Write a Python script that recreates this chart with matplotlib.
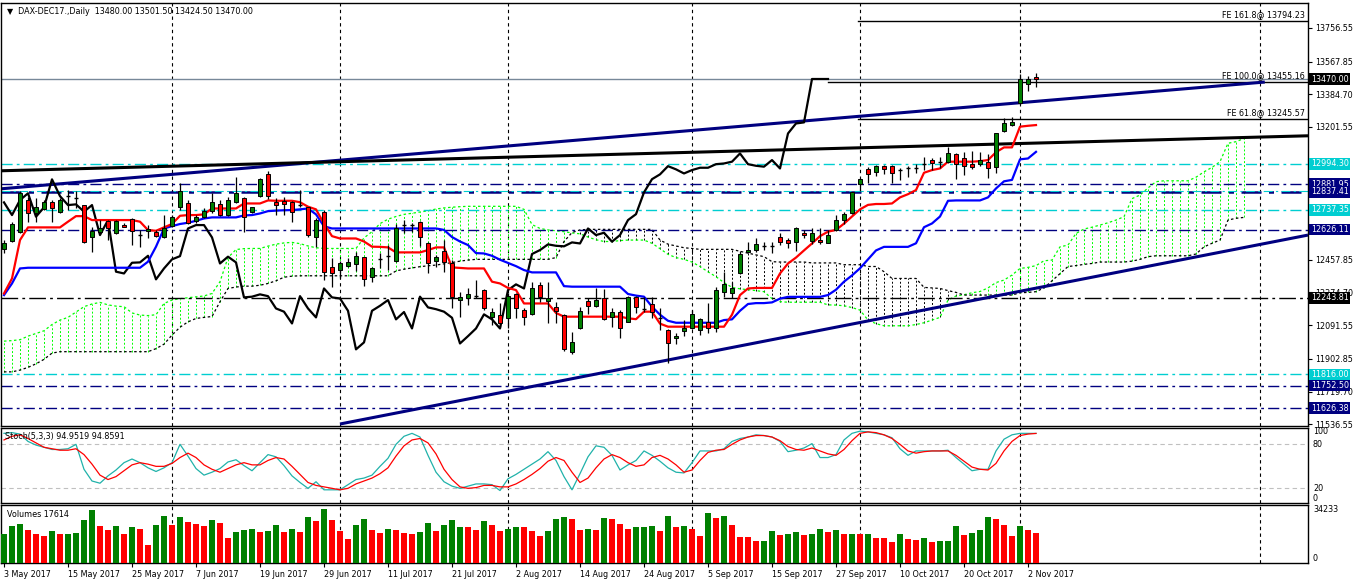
import numpy as np
import matplotlib.pyplot as plt
from matplotlib.patches import Rectangle

plt.rcParams['font.family'] = ['DejaVu Sans']
FS = 5.8

# ---- data (bar index 0 = 3 May 2017) ----
opens = [12518, 12564, 12615, 12792, 12717, 12740, 12779, 12723, 12817, 12802,
         12764, 12587, 12615, 12676, 12606, 12654, 12684, 12596, 12617, 12615,
         12583, 12647, 12751, 12777, 12676, 12699, 12730, 12768, 12708, 12779,
         12805, 12723, 12814, 12938, 12783, 12786, 12783, 12764, 12751, 12587,
         12727, 12415, 12400, 12422, 12434, 12471, 12359, 12460, 12478, 12452,
         12652, 12652, 12667, 12549, 12452, 12506, 12441, 12232, 12245, 12254,
         12288, 12139, 12148, 12129, 12265, 12176, 12152, 12314, 12228, 12191,
         12148, 11943, 12073, 12226, 12200, 12241, 12139, 12163, 12111, 12247,
         12181, 12208, 12133, 12064, 12017, 12060, 12073, 12064, 12111, 12073,
         12275, 12269, 12381, 12499, 12512, 12536, 12533, 12583, 12568, 12558,
         12609, 12564, 12568, 12553, 12624, 12680, 12717, 12881, 12966, 12947,
         12982, 12982, 12960, 12973, 12973, 12993, 13016, 13007, 13007, 13048,
         13025, 12992, 12992, 13003, 12975, 13178, 13210, 13333, 13440, 13480]
highs = [12568, 12671, 12845, 12811, 12801, 12792, 12792, 12801, 12848, 12845,
         12764, 12639, 12680, 12680, 12680, 12661, 12690, 12624, 12652, 12624,
         12708, 12708, 12886, 12792, 12708, 12745, 12830, 12792, 12811, 12923,
         12811, 12755, 12914, 12956, 12801, 12811, 12786, 12848, 12755, 12689,
         12736, 12465, 12452, 12465, 12503, 12475, 12415, 12493, 12540, 12656,
         12680, 12665, 12674, 12559, 12484, 12568, 12456, 12279, 12297, 12344,
         12292, 12185, 12213, 12269, 12269, 12185, 12335, 12335, 12335, 12223,
         12152, 12051, 12195, 12241, 12301, 12292, 12185, 12176, 12254, 12254,
         12251, 12251, 12185, 12068, 12049, 12120, 12176, 12129, 12213, 12307,
         12391, 12335, 12508, 12559, 12577, 12559, 12559, 12609, 12577, 12643,
         12624, 12637, 12633, 12624, 12708, 12727, 12839, 12913, 12975, 12988,
         12988, 12988, 12969, 12982, 12993, 13035, 13025, 13035, 13087, 13057,
         13062, 13068, 13062, 13048, 13169, 13249, 13255, 13498, 13486, 13501.5]
lows = [12493, 12560, 12605, 12671, 12671, 12736, 12671, 12717, 12736, 12745,
        12550, 12499, 12606, 12568, 12602, 12639, 12540, 12531, 12578, 12587,
        12578, 12643, 12736, 12658, 12665, 12690, 12718, 12704, 12704, 12774,
        12615, 12717, 12811, 12800, 12708, 12708, 12671, 12755, 12587, 12531,
        12344, 12307, 12353, 12415, 12396, 12312, 12335, 12409, 12400, 12447,
        12605, 12615, 12534, 12381, 12419, 12391, 12185, 12139, 12204, 12241,
        12176, 12092, 12083, 12073, 12129, 12092, 12148, 12223, 12101, 12101,
        11948, 11930, 12068, 12154, 12191, 12120, 12079, 12017, 12107, 12157,
        12167, 12129, 12064, 11877, 11986, 12030, 12068, 12036, 12045, 12055,
        12247, 12241, 12378, 12493, 12503, 12512, 12497, 12540, 12521, 12508,
        12577, 12545, 12545, 12549, 12620, 12657, 12713, 12844, 12885, 12926,
        12936, 12889, 12904, 12919, 12941, 12960, 12960, 12969, 12997, 12908,
        12932, 12964, 12982, 12913, 12941, 13174, 13206, 13330, 13404, 13424.5]
closes = [12550, 12658, 12830, 12717, 12755, 12779, 12745, 12792, 12817, 12802,
          12555, 12618, 12633, 12633, 12676, 12643, 12620, 12596, 12628, 12592,
          12637, 12699, 12845, 12665, 12699, 12732, 12779, 12708, 12792, 12830,
          12699, 12751, 12908, 12814, 12764, 12768, 12727, 12764, 12596, 12680,
          12391, 12381, 12441, 12443, 12480, 12348, 12409, 12460, 12478, 12633,
          12652, 12652, 12583, 12437, 12475, 12443, 12247, 12251, 12264, 12254,
          12185, 12167, 12101, 12254, 12185, 12135, 12297, 12247, 12241, 12172,
          11956, 11995, 12172, 12200, 12232, 12124, 12165, 12073, 12251, 12191,
          12181, 12167, 12133, 11989, 12030, 12073, 12152, 12124, 12073, 12288,
          12320, 12297, 12490, 12512, 12544, 12536, 12533, 12555, 12549, 12633,
          12596, 12609, 12559, 12596, 12680, 12713, 12835, 12909, 12936, 12982,
          12964, 12941, 12960, 12973, 12973, 12993, 12997, 13007, 13053, 12993,
          12984, 12979, 13016, 12969, 13165, 13221, 13227, 13470, 13470, 13470]

tenkan = [12269, 12353, 12568, 12639, 12639, 12639, 12639, 12639, 12671, 12702,
          12702, 12680, 12680, 12680, 12680, 12680, 12680, 12671, 12624, 12620,
          12639, 12658, 12704, 12708, 12708, 12712, 12745, 12745, 12745, 12745,
          12773, 12773, 12773, 12790, 12788, 12788, 12788, 12780, 12755, 12740,
          12660, 12590, 12577, 12577, 12577, 12560, 12531, 12530, 12527, 12499,
          12499, 12499, 12499, 12512, 12527, 12527, 12415, 12412, 12409, 12409,
          12409, 12335, 12325, 12300, 12288, 12213, 12213, 12213, 12213, 12160,
          12139, 12139, 12139, 12139, 12139, 12139, 12139, 12139, 12130, 12125,
          12167, 12167, 12100, 12083, 12083, 12083, 12083, 12083, 12083, 12083,
          12083, 12150, 12260, 12297, 12300, 12300, 12300, 12381, 12437, 12470,
          12510, 12549, 12590, 12615, 12625, 12660, 12700, 12740, 12765, 12770,
          12770, 12773, 12807, 12825, 12848, 12945, 12960, 12969, 13007, 13007,
          13007, 13007, 13010, 13016, 13060, 13087, 13087, 13203, 13208, 13212]
kijun = [12260, 12325, 12409, 12413, 12413, 12413, 12413, 12413, 12413, 12413,
         12413, 12413, 12413, 12413, 12413, 12413, 12413, 12413, 12447, 12531,
         12633, 12646, 12658, 12665, 12676, 12689, 12695, 12695, 12695, 12695,
         12706, 12708, 12717, 12730, 12733, 12735, 12736, 12740, 12745, 12712,
         12645, 12633, 12633, 12633, 12633, 12633, 12633, 12633, 12633, 12633,
         12633, 12633, 12633, 12633, 12633, 12625, 12585, 12560, 12540, 12495,
         12493, 12480, 12458, 12440, 12422, 12400, 12387, 12387, 12387, 12387,
         12310, 12307, 12307, 12307, 12307, 12307, 12307, 12307, 12266, 12257,
         12251, 12195, 12150, 12116, 12105, 12105, 12105, 12105, 12105, 12105,
         12120, 12124, 12172, 12210, 12215, 12215, 12219, 12240, 12250, 12250,
         12250, 12250, 12250, 12260, 12290, 12335, 12370, 12410, 12460, 12510,
         12530, 12530, 12530, 12530, 12550, 12640, 12661, 12700, 12788, 12790,
         12790, 12790, 12790, 12807, 12857, 12897, 12905, 13020, 13025, 13062]
# senkou spans, already shifted 26 bars ahead (156 points)
span_a = [12002, 12005, 12010, 12030, 12045, 12060, 12095, 12120, 12135, 12165,
          12195, 12210, 12219, 12205, 12198, 12195, 12160, 12148, 12145, 12150,
          12213, 12232, 12240, 12245, 12250, 12255, 12269, 12335, 12470, 12515,
          12520, 12521, 12521, 12534, 12545, 12552, 12555, 12548, 12535, 12525,
          12521, 12521, 12521, 12521, 12521, 12580, 12615, 12660, 12685, 12700,
          12712, 12718, 12725, 12732, 12742, 12748, 12752, 12755, 12757, 12757,
          12757, 12757, 12757, 12757, 12757, 12740, 12655, 12633, 12625, 12620,
          12615, 12608, 12603, 12585, 12570, 12560, 12560, 12565, 12568, 12568,
          12568, 12550, 12520, 12488, 12470, 12460, 12445, 12420, 12390, 12363,
          12330, 12303, 12295, 12290, 12285, 12279, 12240, 12223, 12220, 12220,
          12220, 12220, 12220, 12205, 12204, 12200, 12190, 12176, 12120, 12100,
          12088, 12088, 12088, 12088, 12095, 12105, 12120, 12135, 12232, 12255,
          12262, 12273, 12280, 12300, 12330, 12344, 12372, 12409, 12415, 12425,
          12452, 12456, 12530, 12540, 12605, 12630, 12640, 12652, 12665, 12680,
          12699, 12800, 12820, 12860, 12895, 12900, 12900, 12900, 12900, 12920,
          12950, 12975, 13007, 13110, 13119, 13137]
span_b = [11830, 11830, 11840, 11855, 11875, 11900, 11935, 11943, 11943, 11943,
          11943, 11943, 11943, 11943, 11943, 11943, 11943, 11943, 11943, 11960,
          11985, 12036, 12080, 12110, 12129, 12135, 12140, 12223, 12297, 12305,
          12310, 12310, 12315, 12325, 12340, 12360, 12366, 12368, 12368, 12368,
          12368, 12368, 12368, 12368, 12368, 12368, 12368, 12368, 12368, 12395,
          12405, 12412, 12419, 12424, 12428, 12435, 12442, 12450, 12456, 12460,
          12460, 12460, 12460, 12460, 12460, 12460, 12460, 12460, 12460, 12470,
          12560, 12610, 12625, 12628, 12628, 12628, 12628, 12628, 12628, 12628,
          12628, 12628, 12568, 12545, 12535, 12525, 12521, 12516, 12516, 12516,
          12516, 12516, 12505, 12495, 12485, 12475, 12447, 12445, 12445, 12445,
          12445, 12440, 12440, 12440, 12440, 12430, 12430, 12430, 12420, 12420,
          12391, 12353, 12353, 12353, 12353, 12303, 12300, 12297, 12285, 12275,
          12260, 12260, 12260, 12260, 12260, 12260, 12260, 12273, 12275, 12279,
          12300, 12340, 12380, 12420, 12425, 12432, 12437, 12445, 12445, 12445,
          12445, 12450, 12460, 12475, 12480, 12480, 12480, 12480, 12480, 12490,
          12530, 12550, 12568, 12680, 12690, 12695]

stoch_k = [95, 96, 94, 84, 79, 76, 73, 73, 74, 80,
           46, 30, 27, 37, 45, 55, 60, 55, 48, 43,
           48, 55, 80, 64, 47, 38, 42, 47, 56, 59,
           51, 44, 55, 66, 63, 51, 37, 28, 20, 29,
           18, 18, 18, 25, 32, 34, 38, 50, 61, 80,
           91, 95, 90, 65, 42, 29, 23, 20, 23, 26,
           26, 25, 17, 33, 39, 46, 53, 60, 70, 58,
           36, 18, 40, 63, 78, 76, 65, 45, 52, 58,
           71, 65, 57, 48, 42, 41, 55, 71, 71, 71,
           74, 84, 88, 90, 93, 92, 90, 84, 70, 72,
           75, 81, 62, 62, 66, 86, 95, 98, 97, 95,
           93, 89, 74, 65, 71, 71, 71, 71, 72, 62,
           53, 44, 46, 46, 71, 87, 93, 95, 95, 94.95]
stoch_d = [86, 91, 93, 88, 82, 76, 74, 72, 72, 74,
           66, 53, 38, 32, 36, 44, 52, 55, 53, 50,
           50, 54, 62, 68, 62, 52, 46, 42, 47, 52,
           55, 52, 52, 58, 62, 60, 50, 39, 28, 24,
           22, 20, 18, 20, 26, 30, 34, 40, 48, 64,
           78, 86, 88, 82, 67, 46, 32, 22, 20, 21,
           24, 24, 22, 22, 26, 32, 39, 47, 57, 62,
           58, 42, 28, 34, 48, 60, 66, 62, 55, 50,
           52, 62, 65, 60, 52, 42, 45, 58, 69, 72,
           73, 80, 86, 90, 92, 92, 90, 85, 77, 73,
           72, 75, 71, 67, 65, 73, 85, 95, 97, 96,
           93, 88, 80, 71, 68, 70, 71, 71, 71, 65,
           57, 49, 46, 45, 54, 71, 84, 92, 94, 94.86]

volumes = [17018, 21766, 22953, 19589, 17018, 15830, 18798, 17018, 17018, 17612,
           25328, 31264, 21766, 19589, 21766, 17018, 21172, 19985, 10488, 22360,
           27704, 22360, 27110, 24142, 22953, 21766, 25328, 23548, 14840, 18204,
           19589, 19985, 18204, 18798, 22360, 18204, 19985, 18204, 27110, 24735,
           31858, 25328, 18798, 14049, 22360, 25922, 19391, 17612, 19985, 19391,
           17612, 17018, 18204, 23548, 18798, 22360, 25328, 21172, 21172, 19391,
           24735, 22360, 18798, 19985, 21172, 21172, 18798, 15830, 18798, 25922,
           27110, 25922, 19391, 19985, 19391, 26516, 25922, 22953, 19985, 21172,
           21172, 21766, 18798, 27704, 21172, 21700, 20300, 15700, 29450, 26470,
           27660, 22290, 15120, 15120, 12740, 12740, 18700, 16320, 16900, 18100,
           16320, 16900, 19900, 18100, 19300, 16900, 16900, 16900, 16900, 14530,
           14530, 12140, 16900, 13930, 13330, 14530, 12140, 12740, 12740, 21690,
           16320, 17510, 19300, 27060, 25870, 22290, 15720, 21690, 19300, 17614]
vol_up = ("GGGRRRGRGG" "GGRRGRGRRG" "GRGRRRGRRG" "GGRGGRGRGR" "GRRRGGRRGR"
          "RRGGRGGGRR" "GRRGGRRRGG" "GRRGRGRRRG" "GGRGRGRRGR" "GRRRRGGRGG"
          "RGGRGRGRGR" "RRGRRGRGGG" "RGGGRRRGRR")

date_labels = ["3 May 2017", "15 May 2017", "25 May 2017", "7 Jun 2017", "19 Jun 2017",
               "29 Jun 2017", "11 Jul 2017", "21 Jul 2017", "2 Aug 2017", "14 Aug 2017",
               "24 Aug 2017", "5 Sep 2017", "15 Sep 2017", "27 Sep 2017", "10 Oct 2017",
               "20 Oct 2017", "2 Nov 2017"]
month_grid = [21, 42, 63, 86, 107, 127, 157]

price_ticks = [13756.55, 13567.85, 13384.70, 13201.55, 12457.85, 12274.70,
               12091.55, 11902.85, 11719.70, 11536.55]
# horizontal levels: price, colour
levels = [(12994.30, 'cyan'), (12881.95, 'navy'), (12837.41, 'navy'), (12737.35, 'cyan'),
          (12626.11, 'navy'), (12243.81, 'black'), (11816.00, 'cyan'),
          (11752.50, 'navy'), (11626.38, 'navy')]
fe_levels = [(161.8, 13794.23, 106.75), (100.0, 13455.16, 103), (61.8, 13245.57, 106.75)]
last_price = 13470.00
trend_upper = [(-0.4, 12855), (157.6, 13453)]
trend_black = [(-0.4, 12956), (163, 13152)]
trend_lower = [(42, 11538), (163, 12596)]

COL = {'cyan': '#00CED1', 'navy': '#000080', 'black': '#000000'}
GREEN, RED, LIME = '#008000', '#FF0000', '#00FF00'
W, H = 1358, 584
XMIN, XMAX = -0.375, 163


def frac(x0, y0, x1, y1):
    return [x0 / W, 1 - y1 / H, (x1 - x0) / W, (y1 - y0) / H]


fig = plt.figure(figsize=(W / 100, H / 100), dpi=100)
fig.patch.set_facecolor('white')
ax = fig.add_axes(frac(1, 3, 1308, 426))
ax_st = fig.add_axes(frac(1, 428, 1308, 503))
ax_v = fig.add_axes(frac(1, 505, 1308, 563))

for a in (ax, ax_st, ax_v):
    a.set_xlim(XMIN, XMAX)
    for s in a.spines.values():
        s.set_linewidth(1.0)
        s.set_color('black')
    for g in month_grid:
        a.axvline(g, color='black', lw=0.8, ls=(0, (3, 3)), zorder=0.5)
    a.tick_params(axis='x', bottom=False, labelbottom=False)

# ---- main price panel ----
ax.set_ylim(11526.8, 13895.6)
ax.yaxis.tick_right()
ax.set_yticks(price_ticks)
ax.set_yticklabels([f'{p:.2f}' for p in price_ticks])
ax.tick_params(axis='y', length=3, width=0.8, pad=2, labelsize=FS)

# kumo
n = min(len(span_a), len(span_b))
for j in range(n):
    c = LIME if span_a[j] >= span_b[j] else 'black'
    ax.vlines(j, min(span_a[j], span_b[j]), max(span_a[j], span_b[j]),
              color=c, lw=0.7, ls=(0, (2, 2)), zorder=1)
ax.plot(range(n), span_a[:n], color=LIME, lw=0.9, ls=(0, (2, 2)), zorder=1.2)
ax.plot(range(n), span_b[:n], color='black', lw=0.9, ls=(0, (2, 2)), zorder=1.2)

# horizontal levels
for p, c in levels:
    lw = 1.8 if p == 12837.41 else 1.0
    dash = (0, (12, 3, 2, 3)) if c == 'black' else (0, (8, 3, 2, 3))
    ax.axhline(p, color=COL[c], lw=lw, ls=dash, zorder=1.5)
ax.axhline(12842, color=COL['cyan'], lw=0.8, ls=(0, (8, 3, 2, 3)), zorder=1.6)
ax.axhline(last_price, color='#778899', lw=1.0, zorder=1.5)

# fibo expansion lines
for pct, p, start in fe_levels:
    ax.plot([start, XMAX], [p, p], color='black', lw=1.0, zorder=1.6)
    ax.annotate(f'FE {pct:.1f}@ {p:.2f}', xy=(XMAX, p), xytext=(-2, 1.2),
                textcoords='offset points', ha='right', va='bottom', fontsize=FS,
                zorder=6)

# trend lines
for pts, c in ((trend_upper, 'navy'), (trend_black, 'black'), (trend_lower, 'navy')):
    xs, ys = zip(*pts)
    ax.plot(xs, ys, color=COL[c], lw=2.2, zorder=2, solid_capstyle='butt')

# ichimoku lines
ax.plot(np.arange(len(closes) - 26), closes[26:], color='black', lw=1.6, zorder=3)
ax.plot(np.arange(len(kijun)), kijun, color='#0000FF', lw=1.6, zorder=3)
ax.plot(np.arange(len(tenkan)), tenkan, color=RED, lw=1.6, zorder=3.1)

# candles
bw = 0.56
for i, (o, h, l, c) in enumerate(zip(opens, highs, lows, closes)):
    ax.vlines(i, l, h, color='black', lw=0.9, zorder=4)
    if abs(c - o) < 4:
        ax.hlines(o, i - bw / 2, i + bw / 2, color='black', lw=1.0, zorder=4.2)
    else:
        ax.add_patch(Rectangle((i - bw / 2, min(o, c)), bw, abs(c - o),
                               facecolor=GREEN if c > o else RED, edgecolor='black',
                               lw=0.7, zorder=4.1))

# right-axis value boxes
ytr = ax.get_yaxis_transform()
for p, c in levels + [(last_price, 'black')]:
    ax.text(1.0021, p, f'{p:.2f}', transform=ytr, color='white', fontsize=FS,
            ha='left', va='center', zorder=10, clip_on=False,
            bbox=dict(boxstyle='square,pad=0.16', fc=COL[c], ec='none'))

ax.text(6 / 1307, 1 - 8 / 423, '\u25bc  DAX-DEC17.,Daily  13480.00 13501.50 13424.50 13470.00',
        transform=ax.transAxes, fontsize=FS, va='center', ha='left', zorder=10)

# ---- stochastic ----
ax_st.set_ylim(0, 102.3)
ax_st.set_yticks([])
ax_st.axhline(80, color='#c0c0c0', lw=0.8, ls=(0, (4, 3)), zorder=0.6)
ax_st.axhline(20, color='#c0c0c0', lw=0.8, ls=(0, (4, 3)), zorder=0.6)
ax_st.plot(np.arange(len(stoch_k)), stoch_k, color='#20B2AA', lw=0.9, zorder=3)
ax_st.plot(np.arange(len(stoch_d)), stoch_d, color=RED, lw=0.9, zorder=3.1)
str_ = ax_st.get_yaxis_transform()
for v, va in ((100, 'center'), (80, 'center'), (20, 'center'), (0, 'bottom')):
    yy = 97 if v == 100 else v
    ax_st.text(1.0038, yy, str(v), transform=str_, fontsize=FS, va=va, ha='left',
               clip_on=False)
ax_st.text(4 / 1307, 0.88, 'Stoch(5,3,3) 94.9519 94.8591', transform=ax_st.transAxes,
           fontsize=FS, va='center', ha='left', zorder=10)

# ---- volumes ----
ax_v.set_ylim(0, 34233)
ax_v.set_yticks([])
ax_v.bar(np.arange(len(volumes)), volumes, width=0.64,
         color=[GREEN if u == 'G' else RED for u in vol_up], zorder=3)
vtr = ax_v.get_yaxis_transform()
ax_v.text(1.0038, 34233, '34233', transform=vtr, fontsize=FS, va='top', ha='left',
          clip_on=False)
ax_v.text(1.0038, 0, '0', transform=vtr, fontsize=FS, va='bottom', ha='left',
          clip_on=False)
ax_v.text(6 / 1307, 0.84, 'Volumes 17614', transform=ax_v.transAxes, fontsize=FS,
          va='center', ha='left', zorder=10)

ax_v.set_xticks(np.arange(len(date_labels)) * 8)
ax_v.set_xticklabels(date_labels, ha='left')
ax_v.tick_params(axis='x', bottom=True, labelbottom=True, length=3, width=0.8,
                 pad=2, labelsize=FS)

fig.savefig('out.png', dpi=100, facecolor='white')
